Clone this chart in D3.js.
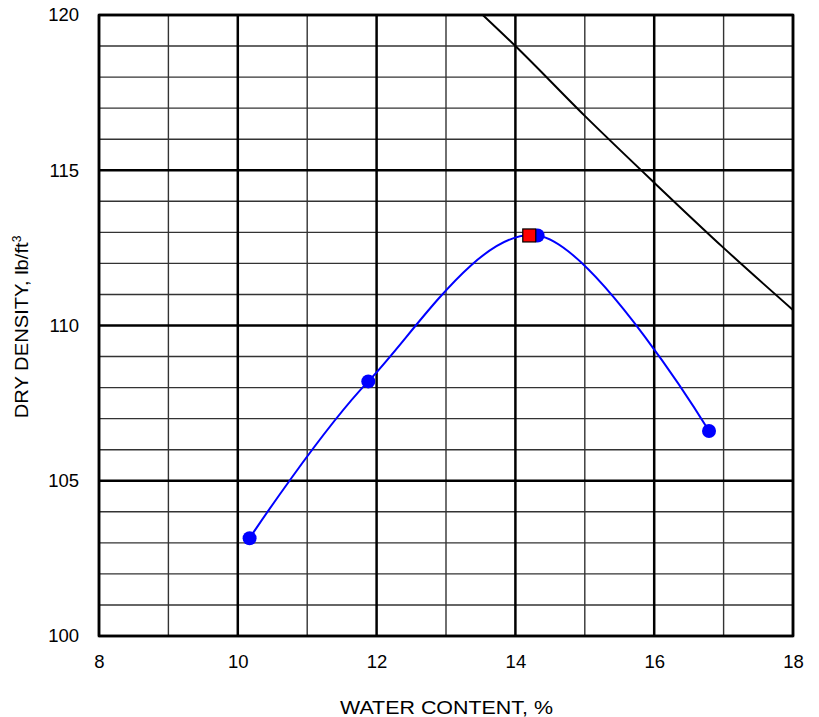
<!DOCTYPE html>
<html><head><meta charset="utf-8">
<script src="https://cdn.jsdelivr.net/npm/d3@7"></script>
<style>body{margin:0;background:#fff}svg{display:block}text{font-family:"Liberation Sans",Arial,sans-serif;fill:#000}</style>
</head><body>
<script>
const waterContent = [10.17, 11.88, 14.32, 16.79];
const dryDensity = [103.15, 108.2, 112.9, 106.6];
const optimumW = [14.2];
const optimumD = [112.9];
const zavW = [13.53, 14, 15, 16, 17, 18];
const zavD = [120, 119.0, 116.75, 114.6, 112.5, 110.5];
const xTicks = [8, 10, 12, 14, 16, 18];
const yTicks = [100, 105, 110, 115, 120];

const W = 819, H = 717;
const m = {l: 99, r: 26, t: 15, b: 81};
const svg = d3.select("body").append("svg").attr("width", W).attr("height", H);
const x = d3.scaleLinear().domain([8, 18]).range([m.l, W - m.r]);
const y = d3.scaleLinear().domain([100, 120]).range([H - m.b, m.t]);

const g = svg.append("g");
// minor grid
g.selectAll(".vmin").data(d3.range(8, 19, 1).filter(v => v % 2 !== 0)).enter().append("line")
  .attr("x1", d => x(d)).attr("x2", d => x(d)).attr("y1", y(100)).attr("y2", y(120))
  .attr("stroke", "#333").attr("stroke-width", 1.4);
g.selectAll(".hmin").data(d3.range(100, 121, 1).filter(v => v % 5 !== 0)).enter().append("line")
  .attr("x1", x(8)).attr("x2", x(18)).attr("y1", d => y(d)).attr("y2", d => y(d))
  .attr("stroke", "#333").attr("stroke-width", 1.4);
// major grid
g.selectAll(".vmaj").data(xTicks).enter().append("line")
  .attr("x1", d => x(d)).attr("x2", d => x(d)).attr("y1", y(100)).attr("y2", y(120))
  .attr("stroke", "#000").attr("stroke-width", 2.5);
g.selectAll(".hmaj").data(yTicks).enter().append("line")
  .attr("x1", x(8)).attr("x2", x(18)).attr("y1", d => y(d)).attr("y2", d => y(d))
  .attr("stroke", "#000").attr("stroke-width", 2.5);
g.append("rect").attr("x", x(8)).attr("y", y(120)).attr("width", x(18) - x(8)).attr("height", y(100) - y(120))
  .attr("fill", "none").attr("stroke", "#000").attr("stroke-width", 2.5);

// axes tick labels via d3 axes
const xAxis = svg.append("g").attr("transform", `translate(0,${y(100)})`)
  .call(d3.axisBottom(x).tickValues(xTicks).tickSize(0).tickPadding(19));
xAxis.select(".domain").remove();
xAxis.selectAll("text").style("font-size", "18.5px").style("font-family", "Liberation Sans, Arial, sans-serif");
const yAxis = svg.append("g").attr("transform", `translate(${x(8)},0)`)
  .call(d3.axisLeft(y).tickValues(yTicks).tickSize(0).tickPadding(20));
yAxis.select(".domain").remove();
yAxis.selectAll("text").style("font-size", "18.5px").style("font-family", "Liberation Sans, Arial, sans-serif");

// titles
svg.append("text").attr("x", 446.5).attr("y", 714).attr("text-anchor", "middle")
  .attr("textLength", 213).attr("lengthAdjust", "spacingAndGlyphs")
  .style("font-size", "17.5px").text("WATER CONTENT, %");
const yt = svg.append("text").attr("transform", `translate(28,327) rotate(-90)`)
  .attr("text-anchor", "middle").style("font-size", "17.5px");
yt.append("tspan").attr("textLength", 176).attr("lengthAdjust", "spacingAndGlyphs").text("DRY DENSITY, lb/ft");
yt.append("tspan").attr("dy", -7).style("font-size", "12px").text("3");

// clip
svg.append("clipPath").attr("id", "clip").append("rect")
  .attr("x", x(8)).attr("y", y(120)).attr("width", x(18) - x(8) + 2).attr("height", y(100) - y(120));

// ZAV line
const zav = zavW.map((w, i) => [w, zavD[i]]);
svg.append("path").datum(zav).attr("clip-path", "url(#clip)")
  .attr("d", d3.line().x(d => x(d[0])).y(d => y(d[1])).curve(d3.curveMonotoneX))
  .attr("fill", "none").attr("stroke", "#000").attr("stroke-width", 2);

// compaction curve
const pts = waterContent.map((w, i) => [w, dryDensity[i]]);
svg.append("path").datum(pts)
  .attr("d", d3.line().x(d => x(d[0])).y(d => y(d[1])).curve(d3.curveCardinal.tension(0)))
  .attr("fill", "none").attr("stroke", "#0000ff").attr("stroke-width", 2);
svg.selectAll(".pt").data(pts).enter().append("circle")
  .attr("cx", d => x(d[0])).attr("cy", d => y(d[1])).attr("r", 7).attr("fill", "#0000ff");

// optimum marker
svg.selectAll(".opt").data(optimumW.map((w, i) => [w, optimumD[i]])).enter().append("rect")
  .attr("x", d => x(d[0]) - 6.5).attr("y", d => y(d[1]) - 6.5).attr("width", 13).attr("height", 13)
  .attr("fill", "#ff0000").attr("stroke", "#000").attr("stroke-width", 1.2);
</script>
</body></html>
